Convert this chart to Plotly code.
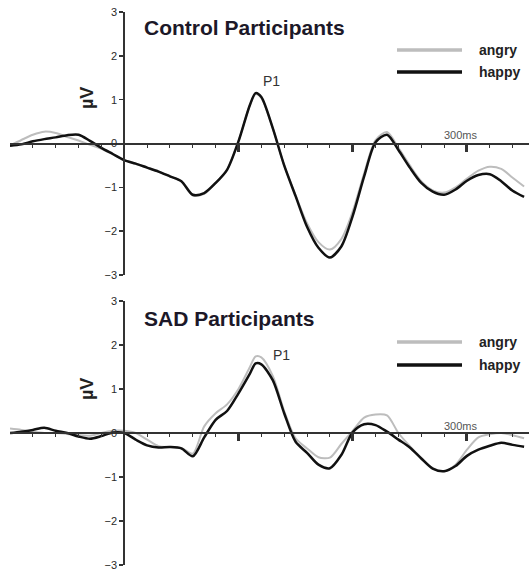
import plotly.graph_objects as go

# time points (ms)
time_ms = [-100, -90, -80, -70, -60, -50, -40, -30, -20, -10, 0, 10, 20, 30, 40, 50, 60, 70, 80, 90,
           100, 110, 115, 120, 130, 140, 150, 160, 170, 180, 190, 200, 210, 220, 230, 240, 250, 260,
           270, 280, 290, 300, 310, 320, 330, 340, 350]

# Control participants (µV)
control_happy = [-0.05, -0.02, 0.05, 0.10, 0.14, 0.19, 0.20, 0.06, -0.10, -0.24, -0.38, -0.46, -0.55,
                 -0.64, -0.75, -0.86, -1.17, -1.13, -0.90, -0.60, 0.05, 0.88, 1.15, 1.06, 0.35, -0.50,
                 -1.20, -1.90, -2.38, -2.60, -2.35, -1.65, -0.75, 0.03, 0.20, -0.15, -0.55, -0.90,
                 -1.10, -1.17, -1.05, -0.85, -0.72, -0.70, -0.86, -1.08, -1.22]
control_angry = [-0.05, 0.08, 0.20, 0.27, 0.24, 0.15, 0.07, -0.03, -0.12, -0.25, -0.38, -0.46, -0.55,
                 -0.64, -0.75, -0.86, -1.19, -1.15, -0.90, -0.60, 0.05, 0.88, 1.13, 1.04, 0.35, -0.50,
                 -1.18, -1.82, -2.25, -2.42, -2.18, -1.55, -0.68, 0.08, 0.26, -0.10, -0.50, -0.86,
                 -1.07, -1.12, -1.00, -0.80, -0.62, -0.53, -0.58, -0.78, -0.98]

# SAD participants (µV)
sad_happy = [0.00, 0.03, 0.07, 0.12, 0.05, 0.00, -0.08, -0.13, -0.07, 0.01, 0.00, -0.15, -0.28, -0.33,
             -0.32, -0.35, -0.53, -0.10, 0.30, 0.50, 0.90, 1.35, 1.58, 1.56, 1.20, 0.45, -0.20, -0.45,
             -0.72, -0.80, -0.50, 0.02, 0.20, 0.18, 0.03, -0.15, -0.33, -0.58, -0.81, -0.87, -0.75,
             -0.52, -0.38, -0.29, -0.22, -0.27, -0.31]
sad_angry = [0.10, 0.07, 0.03, 0.00, 0.00, -0.02, -0.05, -0.06, 0.00, 0.05, 0.05, 0.00, -0.15, -0.30,
             -0.32, -0.34, -0.47, 0.15, 0.45, 0.65, 1.00, 1.50, 1.74, 1.72, 1.30, 0.50, -0.12, -0.35,
             -0.55, -0.56, -0.25, 0.05, 0.35, 0.42, 0.40, 0.00, -0.30, -0.57, -0.80, -0.87, -0.72,
             -0.38, -0.10, -0.03, 0.00, -0.05, -0.12]

panel_titles = ["Control Participants", "SAD Participants"]
series_names = ["angry", "happy"]
y_ticks = [-3, -2, -1, 0, 1, 2, 3]
major_ticks = [100, 200, 300]
minor_ticks = [t for t in range(-80, 350, 20) if t % 100 != 0]

W, H = 529, 575
def px(x):
    return x / W
def py(y):
    return 1 - y / H

GREY = "#bdbdbd"
BLACK = "#111111"
AXIS = "#333333"

fig = go.Figure()

panels = [
    (control_angry, control_happy, "x", "y"),
    (sad_angry, sad_happy, "x2", "y2"),
]
for angry, happy, xa, ya in panels:
    fig.add_trace(go.Scatter(x=time_ms, y=angry, mode="lines", xaxis=xa, yaxis=ya,
                             line=dict(color=GREY, width=2, shape="spline", smoothing=0.8),
                             showlegend=False, name="angry", hoverinfo="skip"))
    fig.add_trace(go.Scatter(x=time_ms, y=happy, mode="lines", xaxis=xa, yaxis=ya,
                             line=dict(color=BLACK, width=2.5, shape="spline", smoothing=0.8),
                             showlegend=False, name="happy", hoverinfo="skip"))

xrange = [-100, 354.3]
top_dom = [py(275), py(12)]
bot_dom = [py(565), py(301)]
yaxis_pos = px(124.2)

def xaxis_cfg(pos):
    return dict(domain=[px(10), 1], range=xrange, anchor="free", position=pos,
                showline=True, linecolor=AXIS, linewidth=2, showgrid=False, zeroline=False,
                showticklabels=False, ticks="outside", tickmode="array", tickvals=major_ticks,
                ticklen=7, tickwidth=3, tickcolor=AXIS,
                minor=dict(tickmode="array", tickvals=minor_ticks, ticks="outside",
                           ticklen=3, tickwidth=1, tickcolor=AXIS))

def yaxis_cfg(dom):
    return dict(domain=dom, range=[-3, 3], anchor="free", position=yaxis_pos,
                showline=True, linecolor=AXIS, linewidth=2, showgrid=False, zeroline=False,
                ticks="outside", ticklen=4, tickwidth=1.5, tickcolor=AXIS,
                tickmode="array", tickvals=y_ticks, automargin=False,
                tickfont=dict(family="Liberation Sans", size=11, color="#2a2a2a"))

fig.update_layout(
    width=W, height=H, margin=dict(l=0, r=0, t=0, b=0, pad=0), autosize=False,
    paper_bgcolor="white", plot_bgcolor="white", showlegend=False,
    xaxis=xaxis_cfg((top_dom[0] + top_dom[1]) / 2),
    yaxis=yaxis_cfg(top_dom),
    xaxis2=xaxis_cfg((bot_dom[0] + bot_dom[1]) / 2),
    yaxis2=yaxis_cfg(bot_dom),
)

annotations = []
shapes = []
deco = [
    dict(title=panel_titles[0], ty=27, uvy=98, p1=(271, 81), ly=(50, 72), msy=135),
    dict(title=panel_titles[1], ty=318, uvy=389, p1=(281, 355), ly=(342, 365), msy=426),
]
for d in deco:
    annotations.append(dict(x=px(142), y=py(d["ty"]), xref="paper", yref="paper", text="<b>%s</b>" % d["title"],
                            showarrow=False, xanchor="left", yanchor="middle",
                            font=dict(family="Liberation Sans", size=21, color="#1c1828")))
    annotations.append(dict(x=px(87), y=py(d["uvy"]), xref="paper", yref="paper", text="<b>µV</b>",
                            showarrow=False, textangle=-90, xanchor="center", yanchor="middle",
                            font=dict(family="Liberation Sans", size=18, color="#222")))
    annotations.append(dict(x=px(d["p1"][0]), y=py(d["p1"][1]), xref="paper", yref="paper", text="P1",
                            showarrow=False, xanchor="center", yanchor="middle",
                            font=dict(family="Liberation Sans", size=14, color="#333")))
    annotations.append(dict(x=px(461), y=py(d["msy"]), xref="paper", yref="paper", text="300ms",
                            showarrow=False, xanchor="center", yanchor="middle",
                            font=dict(family="Liberation Sans", size=11, color="#555")))
    for name, color, lw, yy in [(series_names[0], GREY, 3.5, d["ly"][0]), (series_names[1], BLACK, 3.5, d["ly"][1])]:
        shapes.append(dict(type="line", xref="paper", yref="paper", x0=px(397), x1=px(462),
                           y0=py(yy), y1=py(yy), line=dict(color=color, width=lw)))
        annotations.append(dict(x=px(477), y=py(yy), xref="paper", yref="paper", text="<b>%s</b>" % name,
                                showarrow=False, xanchor="left", yanchor="middle",
                                font=dict(family="Liberation Sans", size=14, color="#222")))

fig.update_layout(annotations=annotations, shapes=shapes)
fig.write_html("out.html", config={"displayModeBar": False, "staticPlot": True},
               post_script="document.body.style.margin='0';document.body.style.overflow='hidden';")
